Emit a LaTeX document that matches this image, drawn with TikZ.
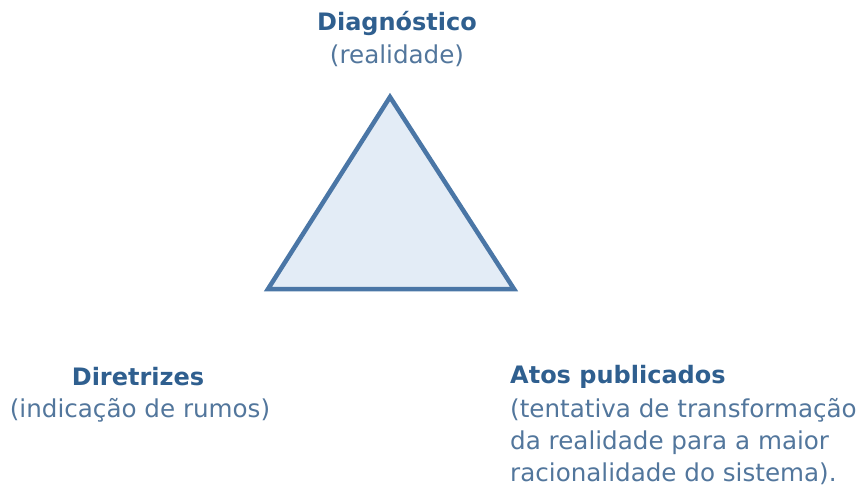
\documentclass[tikz,border=0pt]{standalone}
\usepackage{fontspec}
\setmainfont{DejaVu Sans}
\usetikzlibrary{positioning}
\definecolor{titleblue}{HTML}{2F5F8F}
\definecolor{textblue}{HTML}{52769C}
\definecolor{edgeblue}{HTML}{4A76A6}
\definecolor{fillblue}{HTML}{E3ECF6}
\tikzset{
  title/.style={font=\fontsize{24}{28}\selectfont\bfseries, text=titleblue, inner sep=0pt},
  sub/.style={font=\fontsize{24.6}{32}\selectfont, text=textblue, inner sep=0pt}
}
\begin{document}
\begin{tikzpicture}[x=1pt,y=-1pt]
  \useasboundingbox (0,0) rectangle (861,489);

          \coordinate (top)   at (390,97);
          \coordinate (left)  at (268,289);
          \coordinate (right) at (514,289);
          \draw[edgeblue, fill=fillblue, line width=4.5pt, line join=miter]
               (top) -- (left) -- (right) -- cycle;

          \node[title] (diag)     at (397,23)  {Diagnóstico};
          \node[sub]   (real)     at (397,56)  {(realidade)};

          \node[title] (dir)      at (138,377) {Diretrizes};
          \node[sub]   (rumos)    at (140,410) {(indicação de rumos)};

          \node[title, anchor=west] (atos) at (510,377) {Atos publicados};
          \node[sub, anchor=north west, align=left] (transf) at (510,398)
               {(tentativa de transformação\\da realidade para a maior\\racionalidade do sistema).};
\end{tikzpicture}
\end{document}
